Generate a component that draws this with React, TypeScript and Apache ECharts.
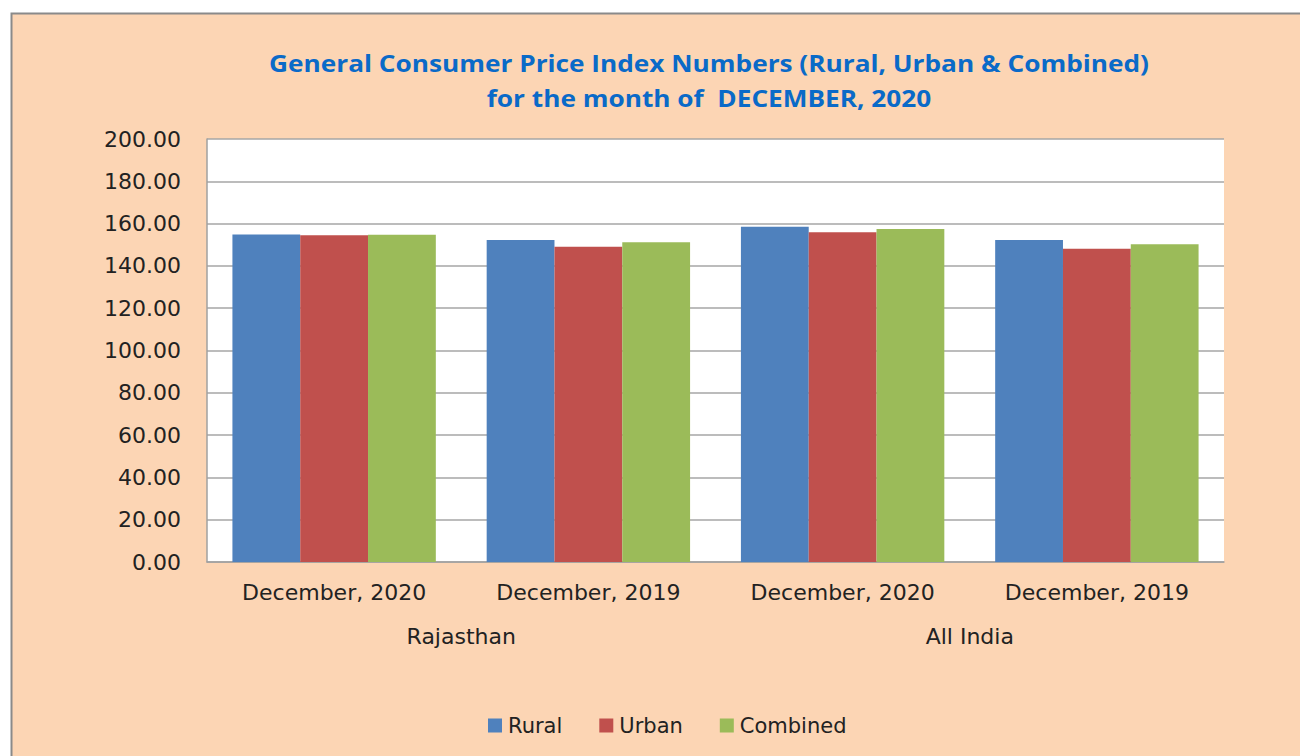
import React, { useEffect, useRef } from "react";
import * as echarts from "echarts";

const categories = ["December, 2020", "December, 2019", "December, 2020", "December, 2019"];
const groups = ["Rajasthan", "All India"];
const seriesNames = ["Rural", "Urban", "Combined"];
const rural = [154.9, 152.2, 158.5, 152.2];
const urban = [154.5, 149.1, 155.9, 148.1];
const combined = [154.7, 151.2, 157.4, 150.2];
const colors = ["#4F81BD", "#C0504D", "#9BBB59"];
const titleLines = [
  "General Consumer Price Index Numbers (Rural, Urban & Combined)",
  "for the month of  DECEMBER, 2020",
];

export default function App() {
  const ref = useRef<HTMLDivElement>(null);
  useEffect(() => {
    const chart = echarts.init(ref.current!, null, { renderer: "svg" });
    const font = "DejaVu Sans";
    chart.setOption({
      animation: false,
      backgroundColor: "#ffffff",
      graphic: [
        {
          type: "rect",
          z: -10,
          silent: true,
          shape: { x: 11.5, y: 13.5, width: 1320, height: 780 },
          style: { fill: "#FCD5B4", stroke: "#8a8a8a", lineWidth: 2 },
        },
        {
          type: "text",
          x: 709,
          y: 81,
          scaleX: 1.14,
          style: {
            text: titleLines.join("\n"),
            fill: "#0A6AC8",
            font: "bold 23px 'Open Sans'",
            align: "center",
            verticalAlign: "middle",
            lineHeight: 35,
          },
        },
      ],
      legend: {
        data: seriesNames,
        left: 483,
        top: 710,
        icon: "rect",
        itemWidth: 14,
        itemHeight: 14,
        itemGap: 37,
        textStyle: { fontFamily: font, fontSize: 21, color: "#222", padding: [0, 0, 0, 1] },
      },
      grid: { left: 207, top: 139, right: 76, bottom: 194, backgroundColor: "#ffffff", show: true, borderWidth: 0 },
      xAxis: [
        {
          type: "category",
          data: categories,
          axisLine: { show: true, lineStyle: { color: "#a0a0a0", width: 1.5 } },
          axisTick: { show: false },
          axisLabel: { fontFamily: font, fontSize: 22, color: "#222", margin: 19 },
        },
        {
          type: "category",
          data: groups,
          position: "bottom",
          offset: 44,
          axisLine: { show: false },
          axisTick: { show: false },
          axisLabel: { fontFamily: font, fontSize: 22, color: "#222", margin: 19 },
        },
      ],
      yAxis: {
        type: "value",
        min: 0,
        max: 200,
        interval: 20,
        axisLine: { show: true, lineStyle: { color: "#a0a0a0", width: 1.5 } },
        axisTick: { show: false },
        splitLine: { lineStyle: { color: "#a6a6a6", width: 1.5 } },
        axisLabel: {
          fontFamily: font,
          fontSize: 22,
          color: "#222",
          margin: 26,
          formatter: (v: number) => v.toFixed(2),
        },
      },
      series: [rural, urban, combined].map((d, i) => ({
        name: seriesNames[i],
        type: "bar",
        xAxisIndex: 0,
        data: d,
        barGap: "0%",
        barCategoryGap: "20%",
        itemStyle: { color: colors[i] },
      })),
    });
    return () => chart.dispose();
  }, []);
  return (
    <div
      ref={ref}
      style={{ position: "fixed", left: 0, top: 0, width: 1300, height: 756 }}
    />
  );
}
